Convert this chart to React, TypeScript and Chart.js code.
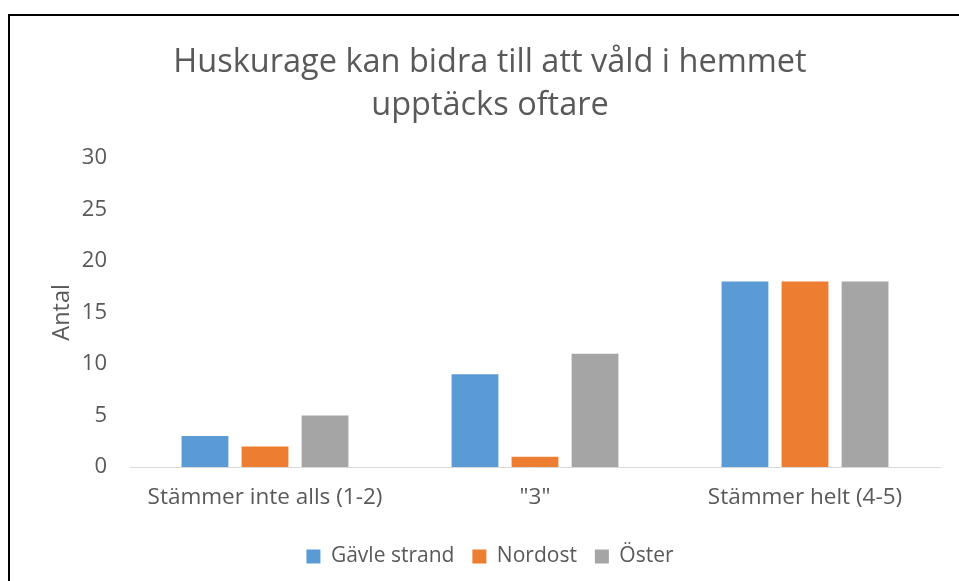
import React, { useEffect, useRef } from "react";
import { Chart, registerables } from "chart.js";
Chart.register(...registerables);

const categories = ["Stämmer inte alls (1-2)", "\"3\"", "Stämmer helt (4-5)"];
const gavleStrand = [3, 9, 18];
const nordost = [2, 1, 18];
const oster = [5, 11, 18];
const seriesNames = ["Gävle strand", "Nordost", "Öster"];
const titleLines = ["Huskurage kan bidra till att våld i hemmet", "upptäcks oftare"];
const yAxisTitle = "Antal";

const FONT = "'Open Sans', 'Noto Sans', sans-serif";
const TXT = "#595959";

export default function App() {
  const ref = useRef<HTMLCanvasElement | null>(null);
  useEffect(() => {
    if (!ref.current) return;
    const chart = new Chart(ref.current, {
      type: "bar",
      data: {
        labels: categories,
        datasets: [
          { label: seriesNames[0], data: gavleStrand, backgroundColor: "#5B9BD5" },
          { label: seriesNames[1], data: nordost, backgroundColor: "#ED7D31" },
          { label: seriesNames[2], data: oster, backgroundColor: "#A5A5A5" },
        ],
      },
      options: {
        animation: false,
        responsive: false,
        maintainAspectRatio: false,
        layout: { padding: { left: 30, right: 19, top: 12, bottom: 4 } },
        datasets: { bar: { categoryPercentage: 0.667, barPercentage: 0.78 } },
        plugins: {
          title: {
            display: true,
            text: titleLines,
            color: TXT,
            font: { family: FONT, size: 32.5, weight: "normal", lineHeight: 1.32 },
            padding: { top: 13, bottom: 31 },
          },
          legend: {
            position: "bottom",
            labels: {
              color: TXT,
              font: { family: FONT, size: 21 },
              boxWidth: 14,
              boxHeight: 14,
              padding: 18,
            },
          },
          tooltip: { enabled: false },
        },
        scales: {
          x: {
            grid: { display: false, drawTicks: false },
            border: { display: true, color: "#D9D9D9", width: 1 },
            ticks: { color: TXT, font: { family: FONT, size: 22.5 }, padding: 17 },
          },
          y: {
            min: 0,
            max: 30,
            afterFit: (scale: any) => {
              scale.width = 90;
            },
            grid: { display: false, drawTicks: false },
            border: { display: false },
            ticks: { stepSize: 5, color: TXT, font: { family: FONT, size: 22 }, padding: 23 },
            title: {
              display: true,
              text: yAxisTitle,
              color: TXT,
              font: { family: FONT, size: 23.5 },
              padding: { top: 8, bottom: 0 },
            },
          },
        },
      },
    });
    return () => chart.destroy();
  }, []);
  return (
    <div
      style={{
        position: "fixed",
        left: 8,
        top: 14,
        width: 980,
        height: 600,
        borderLeft: "2px solid #000",
        borderTop: "2px solid #000",
        background: "#fff",
      }}
    >
      <canvas ref={ref} width={949} height={565} style={{ display: "block" }} />
    </div>
  );
}
